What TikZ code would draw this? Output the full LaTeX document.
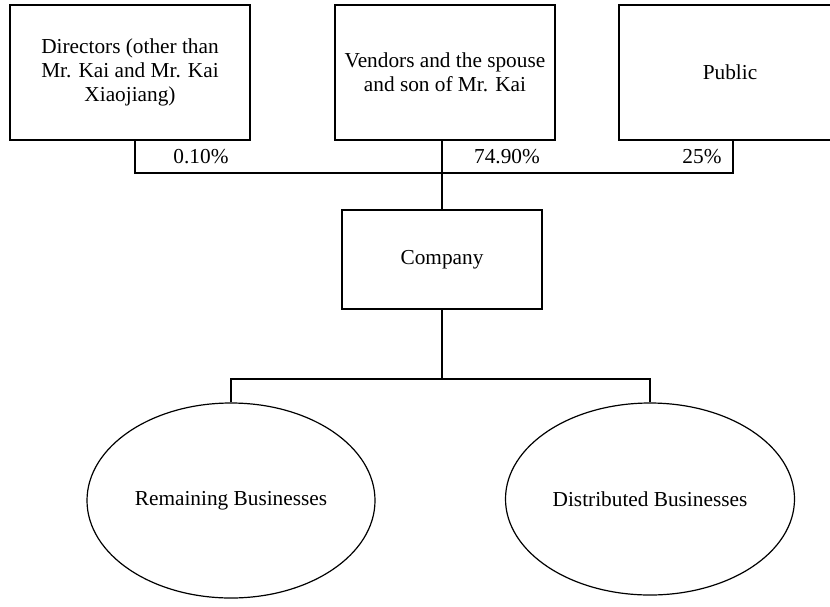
\documentclass[tikz,border=0pt]{standalone}
\usepackage{fontspec}
\setmainfont{Liberation Serif}
\usetikzlibrary{positioning,shapes.geometric}

\begin{document}
\begin{tikzpicture}[x=1pt, y=-1pt,
  box/.style={draw, rectangle, line width=1.2pt, inner sep=0pt, font=\fontsize{21.3}{24}\selectfont, align=center},
  bubble/.style={draw, ellipse, line width=1.2pt, inner sep=0pt, font=\fontsize{21.3}{24}\selectfont},
  pct/.style={font=\fontsize{21.3}{24}\selectfont, inner sep=0pt},
  link/.style={line width=1.2pt}
]
\clip (0,0) rectangle (830,606);

% Draw shareholders
\node[box, minimum width=240pt, minimum height=135pt] (dir) at (130, 72.5) {Directors (other than\\Mr. Kai and Mr. Kai\\Xiaojiang)};
\node[box, minimum width=220pt, minimum height=135pt] (vend) at (445, 72.5) {Vendors and the spouse\\and son of Mr. Kai};
\node[box, minimum width=222pt, minimum height=135pt] (pub) at (730, 72.5) {Public};

% Draw holding percentages
\node[pct] (p1) at (201, 157) {0.10\%};
\node[pct] (p2) at (507, 157) {74.90\%};
\node[pct] (p3) at (702, 157) {25\%};

% Draw company and businesses
\node[box, minimum width=200pt, minimum height=99pt] (comp) at (442, 259.5) {Company};
\node[bubble, minimum width=288pt, minimum height=195pt] (rem) at (231, 500.5) {Remaining Businesses};
\node[bubble, minimum width=289pt, minimum height=192pt] (dist) at (650, 499) {Distributed Businesses};

\coordinate (top) at (442, 173);
\coordinate (split) at (442, 379);

% Draw connectors
\draw[link] ([xshift=5pt]dir.south) |- (top);
\draw[link] ([xshift=3pt]pub.south) |- (top);
\draw[link] ([xshift=-3pt]vend.south) -- (comp.north);
\draw[link] (comp.south) -- (split);
\draw[link] (rem.north) |- (split);
\draw[link] (dist.north) |- (split);

\end{tikzpicture}
\end{document}
